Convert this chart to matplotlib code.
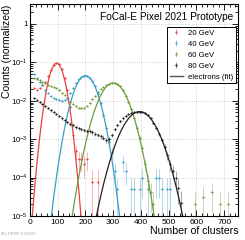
import numpy as np
import matplotlib
matplotlib.use("Agg")
import matplotlib.pyplot as plt
from matplotlib.lines import Line2D
from matplotlib.ticker import MultipleLocator, LogLocator, FuncFormatter, NullFormatter

plt.rcParams['font.family'] = ['Liberation Sans', 'DejaVu Sans']
plt.rcParams['mathtext.fontset'] = 'custom'
plt.rcParams['mathtext.rm'] = 'Liberation Sans'
plt.rcParams['mathtext.it'] = 'Liberation Sans'

# bin centres (bin width 10) and normalised counts
red_x = [5, 15, 25, 35, 45, 55, 65, 75, 85, 95, 105, 115, 125, 135, 145, 155, 165, 175, 185, 195, 205, 225, 245]
red_y = [0.40, 0.021, 0.019, 0.022, 0.026, 0.031, 0.044, 0.063, 0.083, 0.094, 0.088, 0.066, 0.040, 0.019,
         0.0068, 0.0013, 4.8e-4, 3.0e-4, 3.0e-4, 2.3e-4, 3.0e-4, 7.7e-5, 7.7e-5]

blue_x = [5, 15, 25, 35, 45, 55, 65, 75, 85, 95, 105, 115, 125, 135, 145, 155, 165, 175, 185, 195,
          205, 215, 225, 235, 245, 255, 265, 275, 285, 295, 305, 315,
          335, 345, 365, 375, 395, 405, 425, 455, 465, 475, 495, 505]
blue_y = [0.40, 0.049, 0.038, 0.031, 0.025, 0.019, 0.016, 0.013, 0.012, 0.011,
          0.0105, 0.0098, 0.0105, 0.012, 0.016, 0.022, 0.029, 0.036, 0.042, 0.045,
          0.045, 0.040, 0.032, 0.024, 0.0146, 0.0085, 0.0043, 0.0020, 8.5e-4, 4.6e-4, 1.5e-4, 5e-5,
          2.5e-4, 1.5e-4, 5e-5, 5e-5, 5e-5, 1e-4, 5e-5, 1e-4, 1e-4, 5e-5, 5e-5, 5e-5]

green_x = [5, 15, 25, 35, 45, 55, 65, 75, 85, 95, 105, 115, 125, 135, 145, 155, 165, 175, 185, 195,
           205, 215, 225, 235, 245, 255, 265, 275, 285, 295, 305, 315, 325, 335, 345, 355, 365, 375, 385, 395,
           405, 415, 425, 435, 445, 595, 625, 655, 685, 715]
green_y = [0.38, 0.038, 0.036, 0.034, 0.031, 0.029, 0.026, 0.024, 0.023, 0.021,
           0.019, 0.016, 0.014, 0.0115, 0.0095, 0.0082, 0.0072, 0.0066, 0.0063, 0.0066,
           0.0075, 0.0090, 0.011, 0.0135, 0.0165, 0.020, 0.023, 0.026, 0.028, 0.029,
           0.029, 0.027, 0.024, 0.0185, 0.013, 0.0093, 0.0062, 0.0036, 0.0020, 0.0011,
           6e-4, 2.2e-4, 8e-5, 4.2e-5, 2.1e-5, 2.1e-5, 3.1e-5, 4.2e-5, 2.1e-5, 2.1e-5]

black_x = list(range(5, 550, 10))
black_y = [0.9, 0.0115, 0.0102, 0.0092, 0.0082, 0.0073, 0.0064, 0.0056, 0.0050, 0.0045,
           0.0040, 0.0035, 0.0031, 0.0028, 0.0025, 0.0023, 0.0021, 0.0019, 0.0018, 0.0017,
           0.0016, 0.0016, 0.0015, 0.0014, 0.0013, 0.0012, 0.0011, 9.5e-4, 1.0e-3, 1.3e-3,
           1.8e-3, 2.3e-3, 2.9e-3, 3.5e-3, 4.0e-3, 4.5e-3, 4.9e-3, 5.1e-3, 5.2e-3, 5.2e-3,
           5.1e-3, 4.8e-3, 4.3e-3, 3.6e-3, 2.7e-3, 2.0e-3, 1.4e-3, 9.5e-4, 6.2e-4, 3.8e-4,
           2.2e-4, 1.5e-4, 1.0e-4, 5.5e-5, 2.2e-5]

# events per sample (sets the size of the stat. error bars)
n_events = [13000, 20000, 48000, 45000]

# gaussian fit parameters: amplitude, mean, sigma
fit_amp = [0.095, 0.045, 0.029, 0.0052]
fit_mean = [96, 200, 300, 395]
fit_sigma = [20.5, 30, 37, 44]

labels = ['20 GeV', '40 GeV', '60 GeV', '80 GeV']
colors = ['#e8413c', '#3b9fc8', '#6e9e3c', '#222222']
xs = [red_x, blue_x, green_x, black_x]
ys = [red_y, blue_y, green_y, black_y]

fig = plt.figure(figsize=(2.45, 2.40), dpi=100)
ax = fig.add_axes([30 / 245, 24 / 240, 208 / 245, 212 / 240])

xf = np.linspace(0, 750, 1501)
handles = []
for x, y, n, a, m, s, c, lab in zip(xs, ys, n_events, fit_amp, fit_mean, fit_sigma, colors, labels):
    x = np.array(x, float)
    y = np.array(y, float)
    err = np.sqrt(y * n) / n
    lo = np.minimum(err, y * 0.9999)
    ax.errorbar(x, y, yerr=[lo, err], xerr=5, fmt='none', ecolor=c, alpha=0.4, elinewidth=0.7)
    ax.plot(x, y, 'o', color=c, ms=1.5, mew=0)
    ax.plot(xf, a * np.exp(-0.5 * ((xf - m) / s) ** 2), color=c, lw=0.9)
    handles.append((Line2D([], [], color=c, alpha=0.5, marker='|', ls='none', ms=5, mew=0.7),
                    Line2D([], [], color=c, marker='o', ls='none', ms=1.6, mew=0)))

handles.append(Line2D([], [], color='#555555', lw=1.0))
leg = ax.legend(handles, labels + ['electrons (fit)'], loc='upper right',
                bbox_to_anchor=(0.988, 0.893), fontsize=5.6, frameon=True, fancybox=False,
                edgecolor='black', framealpha=1, handlelength=1.7, handletextpad=0.6,
                labelspacing=0.45, borderpad=0.35, borderaxespad=0)
leg.get_frame().set_linewidth(0.7)

ax.text(0.977, 0.962, 'FoCal-E Pixel 2021 Prototype', transform=ax.transAxes,
        ha='right', va='top', fontsize=7.3)

ax.set_xlim(0, 750)
ax.set_yscale('log')
ax.set_ylim(1e-5, 3.3)
ax.xaxis.set_major_locator(MultipleLocator(100))
ax.xaxis.set_minor_locator(MultipleLocator(20))
ax.yaxis.set_major_locator(LogLocator(base=10, numticks=10))
ax.yaxis.set_minor_locator(LogLocator(base=10, subs=np.arange(2, 10), numticks=20))
ax.yaxis.set_minor_formatter(NullFormatter())
ax.yaxis.set_major_formatter(FuncFormatter(lambda v, p: '1' if abs(v - 1) < 1e-9 else r'$10^{%d}$' % round(np.log10(v))))

ax.grid(True, which='major', ls=':', color='#bbbbbb', lw=0.5)
ax.tick_params(which='both', direction='in', top=True, right=True, width=0.6, labelsize=6, pad=2)
ax.tick_params(axis='y', labelsize=5.6, pad=1.5)
ax.tick_params(which='major', length=4)
ax.tick_params(which='minor', length=2)
for sp in ax.spines.values():
    sp.set_linewidth(0.8)

ax.set_xlabel('Number of clusters', fontsize=7.6, loc='right')
ax.xaxis.set_label_coords(1.0, -0.045)
ax.set_ylabel('Counts (normalized)', fontsize=7.5, loc='top')
ax.yaxis.set_label_coords(-0.088, 0.995)

fig.text(0.003, 0.015, 'ALI-PERF-523260', fontsize=3.2, color='#aaaaaa', ha='left', va='bottom')

fig.savefig('out.png', dpi=100)
